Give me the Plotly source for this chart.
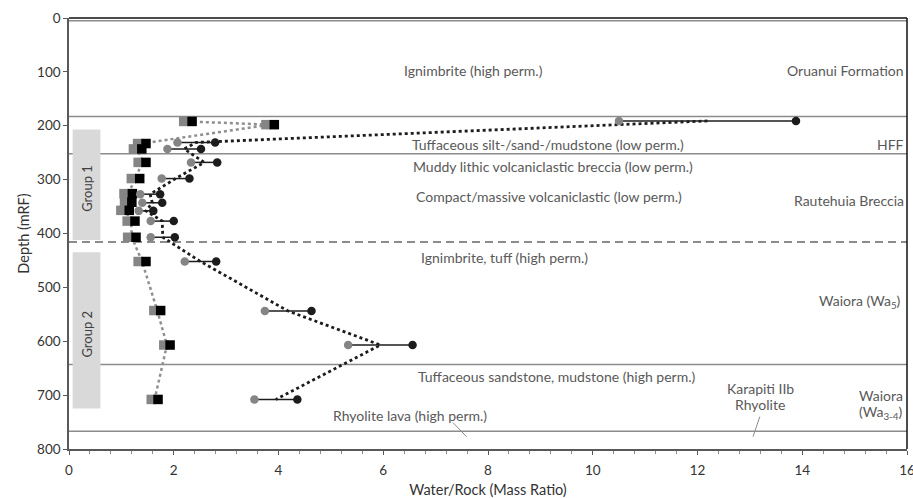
import plotly.graph_objects as go

# Water/rock ratios estimated from two mineral-based methods (squares) and
# two fluid-based methods (circles), versus depth in metres below reference.
sq_depth = [192, 198, 233, 243, 268, 298, 326, 342, 357, 377, 407, 452, 543, 607, 708]
sq_low = [2.19, 3.76, 1.31, 1.23, 1.32, 1.19, 1.05, 1.06, 0.99, 1.11, 1.12, 1.32, 1.62, 1.81, 1.57]
sq_high = [2.35, 3.92, 1.47, 1.39, 1.47, 1.35, 1.21, 1.20, 1.15, 1.26, 1.28, 1.47, 1.75, 1.93, 1.70]

ci_depth = [191, 231, 243, 268, 298, 327, 343, 358, 377, 407, 452, 544, 607, 708]
ci_low = [10.5, 2.07, 1.88, 2.33, 1.77, 1.36, 1.40, 1.33, 1.56, 1.56, 2.21, 3.74, 5.33, 3.54]
ci_high = [13.88, 2.79, 2.52, 2.83, 2.30, 1.74, 1.78, 1.61, 2.00, 2.02, 2.81, 4.63, 6.56, 4.36]

# Unit boundaries (depth) and group extents
solid_bounds = [5, 183, 252, 643, 767]
dashed_bound = 416
groups = [("Group 1", 207, 412), ("Group 2", 435, 725)]

GRAY = "#858585"
DARK = "#1c1c1c"
TXT = "#595959"
FONT = "Lato, 'Open Sans', sans-serif"
FS = 14

fig = go.Figure()

# mean trend lines
sq_mean = [(a + b) / 2 for a, b in zip(sq_low, sq_high)]
ci_mean = [(a + b) / 2 for a, b in zip(ci_low, ci_high)]
fig.add_trace(go.Scatter(x=sq_mean, y=sq_depth, mode="lines",
                         line=dict(color="#8f8f8f", width=2.5, dash="dot"),
                         hoverinfo="skip"))
fig.add_trace(go.Scatter(x=ci_mean, y=ci_depth, mode="lines",
                         line=dict(color=DARK, width=2.8, dash="dot"),
                         hoverinfo="skip"))

# range bars joining the two fluid-based estimates
bx, by = [], []
for d, a, b in zip(ci_depth, ci_low, ci_high):
    bx += [a, b, None]
    by += [d, d, None]
fig.add_trace(go.Scatter(x=bx, y=by, mode="lines",
                         line=dict(color=DARK, width=1.5), hoverinfo="skip"))

fig.add_trace(go.Scatter(x=sq_low, y=sq_depth, mode="markers",
                         marker=dict(symbol="square", size=9.5, color=GRAY)))
fig.add_trace(go.Scatter(x=sq_high, y=sq_depth, mode="markers",
                         marker=dict(symbol="square", size=9.5, color="#000000")))
fig.add_trace(go.Scatter(x=ci_low, y=ci_depth, mode="markers",
                         marker=dict(symbol="circle", size=8.5, color=GRAY)))
fig.add_trace(go.Scatter(x=ci_high, y=ci_depth, mode="markers",
                         marker=dict(symbol="circle", size=8.5, color=DARK)))

shapes = []
for name, d0, d1 in groups:
    shapes.append(dict(type="rect", xref="x", yref="y", x0=0.07, x1=0.6, y0=d0, y1=d1,
                       fillcolor="#d9d9d9", line=dict(width=0), layer="below"))
for d in solid_bounds:
    shapes.append(dict(type="line", xref="paper", yref="y", x0=0, x1=1, y0=d, y1=d,
                       line=dict(color="#8c8c8c", width=1.5), layer="below"))
shapes.append(dict(type="line", xref="paper", yref="y", x0=0, x1=1,
                   y0=dashed_bound, y1=dashed_bound,
                   line=dict(color="#8c8c8c", width=2, dash="8px,5px"), layer="below"))
# leader lines
shapes.append(dict(type="line", xref="x", yref="y", x0=7.33, y0=751, x1=7.59, y1=777,
                   line=dict(color="#8c8c8c", width=1)))
shapes.append(dict(type="line", xref="x", yref="y", x0=13.19, y0=740, x1=13.06, y1=777,
                   line=dict(color="#8c8c8c", width=1)))
# frame: top and right borders
shapes.append(dict(type="line", xref="paper", yref="paper", x0=0, x1=1, y0=1, y1=1,
                   line=dict(color="#111111", width=1.5)))
shapes.append(dict(type="line", xref="paper", yref="paper", x0=1, x1=1, y0=0, y1=1,
                   line=dict(color="#111111", width=1.5)))

ann = []
def label(text, x, y, xanchor="center", xref="x"):
    ann.append(dict(text=text, x=x, y=y, xref=xref, yref="y", xanchor=xanchor,
                    yanchor="middle", showarrow=False,
                    font=dict(family=FONT, size=FS, color=TXT)))

label("Ignimbrite (high perm.)", 7.73, 98)
label("Oruanui Formation", 0.999, 98, "right", "paper")
label("HFF", 0.999, 234, "right", "paper")
label("Tuffaceous silt-/sand-/mudstone (low perm.)", 9.14, 234)
label("Muddy lithic volcaniclastic breccia (low perm.)", 9.24, 276)
label("Compact/massive volcaniclastic (low perm.)", 9.16, 332)
label("Rautehuia Breccia", 0.999, 338, "right", "paper")
label("Ignimbrite, tuff (high perm.)", 8.31, 444)
label("Waiora (Wa<sub>5</sub>)", 0.995, 526, "right", "paper")
label("Tuffaceous sandstone, mudstone (high perm.)", 9.31, 665)
label("Karapiti IIb", 13.2, 687)
label("Rhyolite", 13.2, 718)
label("Waiora", 15.5, 700)
label("(Wa<sub>3-4</sub>)", 15.5, 732)
label("Rhyolite lava (high perm.)", 6.51, 737)

for name, d0, d1 in groups:
    ann.append(dict(text=name, x=0.34, y=(d0 + d1) / 2 + 6, xref="x", yref="y",
                    showarrow=False, textangle=-90,
                    font=dict(family=FONT, size=13, color="#404040")))

fig.update_layout(
    width=913, height=498,
    margin=dict(l=69, r=6, t=18, b=49),
    paper_bgcolor="white", plot_bgcolor="white",
    showlegend=False,
    shapes=shapes, annotations=ann,
    font=dict(family=FONT, size=FS, color="#333333"),
    xaxis=dict(range=[0, 16], dtick=2, tick0=0, showgrid=False, zeroline=False,
               automargin=False,
               showline=True, linecolor="#595959", linewidth=1.5,
               ticks="outside", ticklen=4, tickcolor="#595959",
               ticklabeloverflow="allow", ticklabelstandoff=4,
               tickfont=dict(family=FONT, size=13.5, color="#333333"),
               minor=dict(dtick=0.4, ticks="outside", ticklen=3, tickcolor="#8c8c8c"),
               title=dict(text="Water/Rock (Mass Ratio)", standoff=8,
                          font=dict(family=FONT, size=14.5, color="#333333"))),
    yaxis=dict(range=[800, 0], dtick=100, tick0=0, showgrid=False, zeroline=False,
               automargin=False,
               showline=True, linecolor="#595959", linewidth=1.5,
               ticks="outside", ticklen=4, tickcolor="#595959",
               tickfont=dict(family=FONT, size=13.5, color="#333333"),
               title=dict(text="Depth (mRF)", standoff=4,
                          font=dict(family=FONT, size=14.5, color="#333333"))),
)

fig.write_html("out.html")
